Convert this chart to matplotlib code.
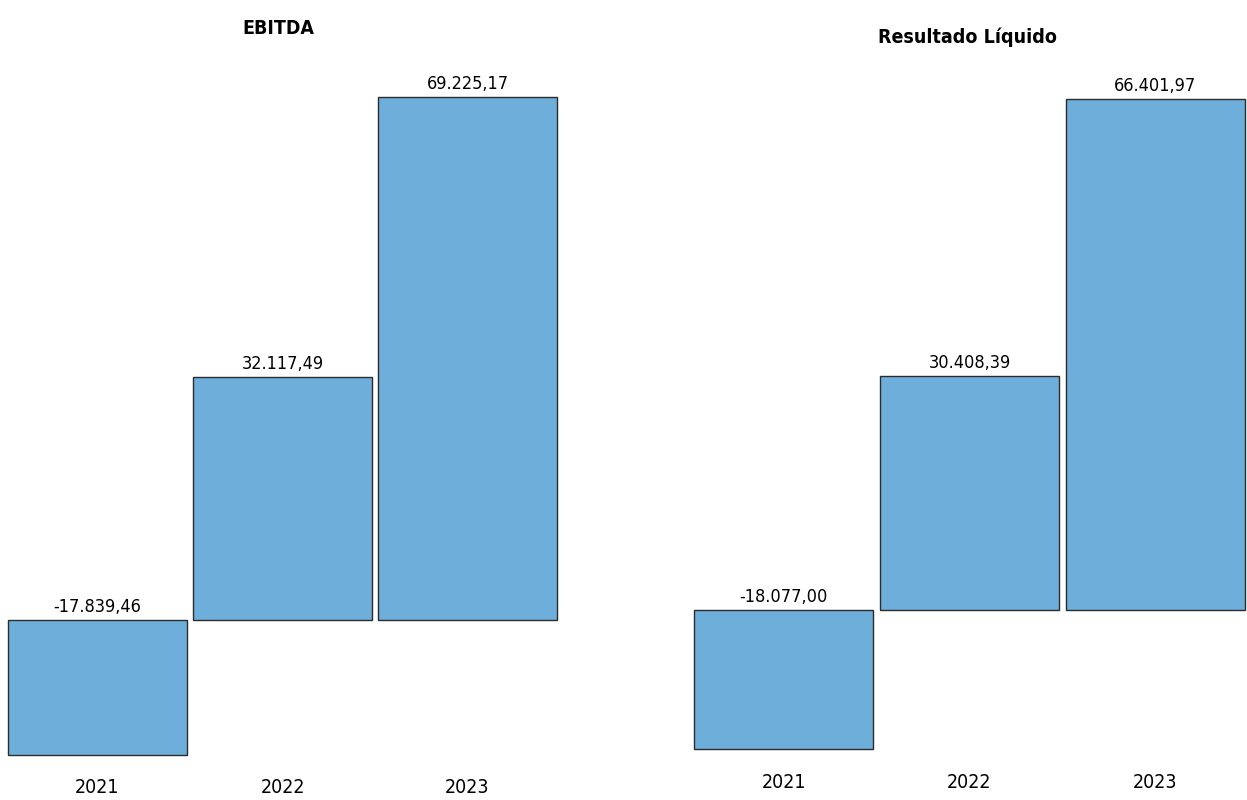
import matplotlib
matplotlib.use("Agg")
import matplotlib.pyplot as plt

years = ["2021", "2022", "2023"]
ebitda = [-17839.46, 32117.49, 69225.17]
resultado = [-18077.00, 30408.39, 66401.97]
titles = ["EBITDA", "Resultado Líquido"]

plt.rcParams['font.family'] = ['DejaVu Sans']

W, H = 1247, 800
fig = plt.figure(figsize=(W / 100, H / 100), dpi=100)

def px_axes(x0, y0_top, x1, y1_bot):
    return fig.add_axes([x0 / W, 1 - y1_bot / H, (x1 - x0) / W, (y1_bot - y0_top) / H])

def fmt(v):
    s = f"{v:,.2f}"
    return s.replace(",", "X").replace(".", ",").replace("X", ".")

bar_color = "#6DAEDB"
edge_color = "#2b2b2b"

configs = [
    (ebitda, titles[0], (5, 60, 560, 770), (-19854, 74123), (278, 28)),
    (resultado, titles[1], (691, 60, 1248, 765), (-20143, 71475), (968, 37)),
]

for values, title, box, ylim, tpos in configs:
    ax = px_axes(*box)
    x = range(len(years))
    ax.bar(x, values, width=0.965, color=bar_color, edgecolor=edge_color, linewidth=1.0)
    ax.set_xlim(-0.5, 2.5)
    ax.set_ylim(*ylim)
    ax.set_xticks(list(x))
    ax.set_xticklabels(years, fontsize=14, fontstretch='condensed')
    ax.tick_params(axis='x', length=0, pad=6)
    ax.set_yticks([])
    for sp in ax.spines.values():
        sp.set_visible(False)
    for xi, v in zip(x, values):
        ax.annotate(fmt(v), (xi, max(v, 0)), xytext=(0, 3), textcoords="offset points",
                    ha="center", va="bottom", fontsize=13, fontstretch='condensed')
    fig.text(tpos[0] / W, 1 - tpos[1] / H, title, ha="center", va="center",
             fontsize=14, fontweight="bold", fontstretch='condensed')

fig.savefig("out.png", dpi=100)
